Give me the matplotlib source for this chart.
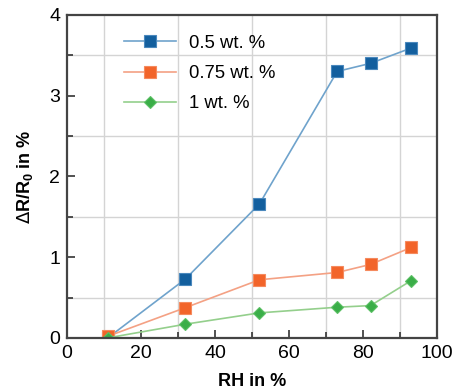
import matplotlib
matplotlib.use("Agg")
import matplotlib.pyplot as plt
from matplotlib.ticker import MultipleLocator

plt.rcParams['font.family'] = ['Liberation Sans', 'DejaVu Sans']

rh = [11, 32, 52, 73, 82, 93]
s05 = [0.0, 0.73, 1.66, 3.30, 3.40, 3.59]
s075 = [0.02, 0.375, 0.72, 0.81, 0.91, 1.12]
s1 = [0.0, 0.17, 0.31, 0.38, 0.40, 0.71]
labels = ['0.5 wt. %', '0.75 wt. %', '1 wt. %']

fig = plt.figure(figsize=(4.53, 3.92), dpi=100)
ax = fig.add_axes([0.148, 0.138, 0.817, 0.824])

ax.plot(rh, s05, '-s', color='#6fa3cc', lw=1.2, ms=9, mfc='#135f9e', mec='#4a88bd', mew=0.8, label=labels[0])
ax.plot(rh, s075, '-s', color='#f4a184', lw=1.2, ms=9, mfc='#f2642a', mec='#f58a5e', mew=0.8, label=labels[1])
ax.plot(rh, s1, '-D', color='#94cf8c', lw=1.2, ms=6.5, mfc='#3aae48', mec='#5cc065', mew=0.8, label=labels[2])

ax.set_xlim(0, 100)
ax.set_ylim(0, 4)
ax.xaxis.set_major_locator(MultipleLocator(20))
ax.xaxis.set_minor_locator(MultipleLocator(10))
ax.yaxis.set_major_locator(MultipleLocator(1))
ax.yaxis.set_minor_locator(MultipleLocator(0.5))
ax.grid(which='minor', color='#d4d4d4', lw=1.0)
ax.grid(which='major', visible=False)
ax.set_axisbelow(True)
ax.tick_params(which='both', direction='in', color='#333333', labelsize=14, width=1.2)
ax.tick_params(which='major', length=6, pad=5)
ax.tick_params(which='minor', length=4)
for sp in ax.spines.values():
    sp.set_color('#444444')
    sp.set_linewidth(1.6)

ax.set_xlabel('RH in %', fontsize=13, fontweight='bold', labelpad=8)
ax.set_ylabel(r'$\Delta$R/R$_\mathregular{0}$ in %', fontsize=13, fontweight='bold', labelpad=10)

leg = ax.legend(loc='upper left', frameon=False, fontsize=13.3, handlelength=2.8,
                labelspacing=0.72, bbox_to_anchor=(0.11, 0.99), handletextpad=0.7)

fig.savefig('out.png', dpi=100)
